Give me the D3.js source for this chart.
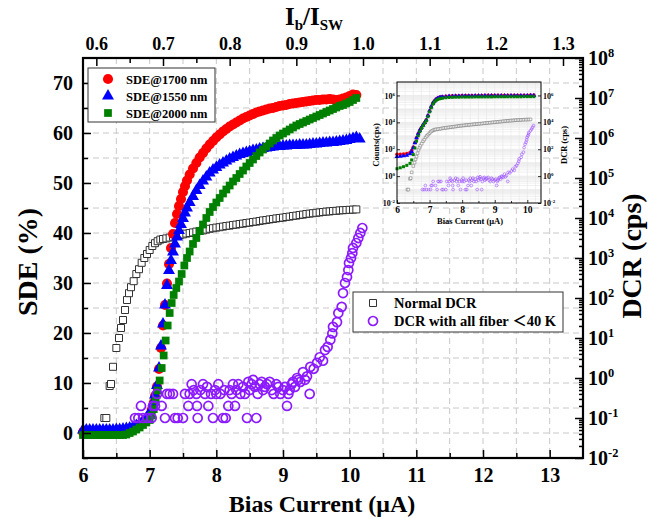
<!DOCTYPE html>
<meta charset="utf-8">
<style>
body { margin: 0; background: #fff; }
svg { font-family: "Liberation Serif", "Times New Roman", "Noto Sans CJK SC", serif; font-weight: bold; }
.grid line { stroke: #c8c8c8; stroke-width: 1; stroke-dasharray: 6,4; }
.axis text { fill: #000; }
.axis line { stroke: #000; stroke-width: 1.5; }
.inset .axis line { stroke-width: 0.8; }
.igrid line { stroke: #e6e6e6; stroke-width: 0.6; }
</style>
<svg width="649" height="519"></svg>
<script src="https://cdn.jsdelivr.net/npm/d3@7"></script>
<script>

// SDE (%) vs bias current (uA)
var sde1700 = [[6.00,0.2],[6.05,0.2],[6.10,0.2],[6.15,0.2],[6.20,0.2],[6.25,0.2],[6.30,0.2],[6.35,0.2],[6.40,0.3],[6.45,0.3],[6.50,0.3],[6.55,0.4],[6.60,0.4],[6.65,0.5],[6.70,0.7],[6.75,0.9],[6.80,1.3],[6.85,1.7],[6.90,2.2],[6.95,2.8],[7.00,3.5],[7.03,4.6],[7.06,6.0],[7.08,7.4],[7.11,9.3],[7.14,12.8],[7.17,17.0],[7.20,21.5],[7.23,25.6],[7.26,29.9],[7.29,33.8],[7.32,37.0],[7.35,39.8],[7.38,42.0],[7.41,43.8],[7.44,45.4],[7.47,46.8],[7.50,48.2],[7.53,49.4],[7.56,50.5],[7.60,51.7],[7.65,52.9],[7.70,54.0],[7.75,55.1],[7.80,56.0],[7.85,56.9],[7.90,57.7],[7.95,58.4],[8.00,59.1],[8.05,59.7],[8.10,60.3],[8.15,60.8],[8.20,61.3],[8.25,61.7],[8.30,62.1],[8.35,62.5],[8.40,62.9],[8.45,63.2],[8.50,63.5],[8.55,63.8],[8.60,64.1],[8.65,64.3],[8.70,64.5],[8.75,64.7],[8.80,64.9],[8.85,65.0],[8.90,65.2],[8.95,65.4],[9.00,65.5],[9.05,65.6],[9.10,65.8],[9.15,65.9],[9.20,66.0],[9.25,66.1],[9.30,66.2],[9.35,66.3],[9.40,66.4],[9.45,66.5],[9.50,66.6],[9.55,66.6],[9.60,66.7],[9.65,66.7],[9.70,66.8],[9.75,66.7],[9.80,66.6],[9.85,66.7],[9.90,66.9],[9.95,67.1],[10.00,67.4],[10.05,67.7],[10.10,67.6]];

var sde1550 = [[6.00,0.6],[6.05,0.6],[6.10,0.6],[6.15,0.6],[6.20,0.6],[6.25,0.6],[6.30,0.6],[6.35,0.6],[6.40,0.6],[6.45,0.6],[6.50,0.7],[6.55,0.7],[6.60,0.8],[6.65,0.9],[6.70,1.0],[6.75,1.2],[6.80,1.5],[6.85,1.9],[6.90,2.4],[6.95,3.0],[7.00,3.7],[7.03,4.8],[7.06,6.2],[7.08,7.6],[7.11,9.5],[7.14,13.0],[7.17,17.4],[7.20,21.8],[7.23,25.6],[7.26,29.5],[7.29,32.5],[7.32,34.5],[7.35,36.2],[7.38,37.8],[7.41,39.2],[7.44,40.5],[7.47,41.7],[7.50,42.9],[7.53,44.0],[7.56,45.0],[7.60,46.1],[7.65,47.3],[7.70,48.5],[7.75,49.5],[7.80,50.4],[7.85,51.2],[7.90,52.0],[7.95,52.6],[8.00,53.1],[8.05,53.6],[8.10,54.0],[8.15,54.4],[8.20,54.8],[8.25,55.1],[8.30,55.4],[8.35,55.7],[8.40,55.9],[8.45,56.1],[8.50,56.3],[8.55,56.5],[8.60,56.6],[8.65,56.8],[8.70,56.9],[8.75,57.0],[8.80,57.1],[8.85,57.2],[8.90,57.3],[8.95,57.3],[9.00,57.4],[9.05,57.4],[9.10,57.5],[9.15,57.5],[9.20,57.5],[9.25,57.6],[9.30,57.6],[9.35,57.6],[9.40,57.7],[9.45,57.8],[9.50,57.8],[9.55,57.9],[9.60,58.0],[9.65,58.0],[9.70,58.1],[9.75,58.1],[9.80,58.2],[9.85,58.3],[9.90,58.4],[9.95,58.5],[10.00,58.7],[10.05,58.9],[10.10,59.1],[10.15,58.8]];

var sde2000 = [[6.00,-0.4],[6.05,-0.4],[6.10,-0.4],[6.15,-0.4],[6.20,-0.4],[6.25,-0.4],[6.30,-0.4],[6.35,-0.4],[6.40,-0.4],[6.45,-0.4],[6.50,-0.4],[6.55,-0.4],[6.60,-0.4],[6.65,-0.3],[6.70,0.0],[6.75,0.3],[6.80,0.7],[6.85,1.1],[6.90,1.6],[6.95,2.1],[7.00,2.6],[7.03,3.5],[7.06,4.8],[7.09,6.5],[7.12,8.5],[7.15,10.5],[7.18,13.0],[7.21,15.5],[7.24,18.5],[7.27,21.5],[7.30,24.0],[7.33,26.0],[7.36,27.6],[7.40,29.0],[7.44,30.3],[7.48,31.8],[7.52,33.5],[7.56,35.0],[7.60,36.3],[7.65,37.8],[7.70,39.0],[7.75,40.4],[7.80,41.7],[7.85,43.0],[7.90,44.2],[7.95,45.2],[8.00,46.1],[8.05,47.0],[8.10,47.9],[8.15,48.7],[8.20,49.5],[8.25,50.3],[8.30,51.0],[8.35,51.8],[8.40,52.5],[8.45,53.3],[8.50,54.0],[8.55,54.7],[8.60,55.4],[8.65,56.1],[8.70,56.7],[8.75,57.3],[8.80,57.9],[8.85,58.5],[8.90,59.0],[8.95,59.5],[9.00,59.9],[9.05,60.3],[9.10,60.7],[9.15,61.1],[9.20,61.5],[9.25,61.8],[9.30,62.1],[9.35,62.4],[9.40,62.7],[9.45,63.0],[9.50,63.3],[9.55,63.6],[9.60,63.9],[9.65,64.2],[9.70,64.5],[9.75,64.8],[9.80,65.1],[9.85,65.4],[9.90,65.6],[9.95,65.9],[10.00,66.2],[10.05,66.6],[10.10,67.0]];

// normal DCR, log10(cps)
var dcrNormalLog = [[6.32,-1.0],[6.35,-1.0],[6.40,-0.2],[6.42,-0.15],[6.45,0.28],[6.50,0.75],[6.54,1.0],[6.57,1.25],[6.60,1.45],[6.63,1.7],[6.66,1.95],[6.69,2.12],[6.72,2.27],[6.76,2.42],[6.80,2.6],[6.84,2.72],[6.88,2.88],[6.92,3.0],[6.96,3.1],[7.00,3.2],[7.04,3.3],[7.08,3.37],[7.12,3.42],[7.16,3.46],[7.20,3.475],[7.25,3.49],[7.30,3.51],[7.35,3.53],[7.40,3.555],[7.45,3.575],[7.50,3.59],[7.55,3.61],[7.60,3.625],[7.65,3.64],[7.70,3.66],[7.75,3.675],[7.80,3.69],[7.85,3.71],[7.90,3.73],[7.95,3.745],[8.00,3.76],[8.05,3.77],[8.10,3.785],[8.15,3.8],[8.20,3.81],[8.25,3.825],[8.30,3.835],[8.35,3.85],[8.40,3.86],[8.45,3.875],[8.50,3.885],[8.55,3.9],[8.60,3.91],[8.65,3.925],[8.70,3.94],[8.75,3.95],[8.80,3.965],[8.85,3.975],[8.90,3.99],[8.95,4.0],[9.00,4.01],[9.05,4.025],[9.10,4.035],[9.15,4.05],[9.20,4.06],[9.25,4.075],[9.30,4.085],[9.35,4.1],[9.40,4.11],[9.45,4.12],[9.50,4.13],[9.55,4.14],[9.60,4.15],[9.65,4.16],[9.70,4.165],[9.75,4.175],[9.80,4.18],[9.85,4.19],[9.90,4.195],[9.95,4.2],[10.00,4.205],[10.05,4.21],[10.10,4.215]];

// DCR with all fiber < 40 K, cps
var dcrCold = [[6.78,0.1],[6.83,0.1],[6.87,0.2],[6.90,0.1],[6.97,0.1],[7.03,0.1],[7.05,0.2],[7.08,0.2],[7.11,0.4],[7.18,0.2],[7.23,0.1],[7.26,0.4],[7.30,0.4],[7.35,0.4],[7.38,0.1],[7.42,0.1],[7.50,0.1],[7.53,0.4],[7.58,0.2],[7.60,0.4],[7.63,0.7],[7.66,0.5],[7.70,0.4],[7.71,0.2],[7.72,0.1],[7.76,0.5],[7.80,0.7],[7.83,0.4],[7.86,0.6],[7.88,0.2],[7.92,0.4],[7.95,0.1],[7.98,0.5],[8.00,0.4],[8.03,0.7],[8.06,0.4],[8.10,0.1],[8.12,0.5],[8.14,0.1],[8.18,0.2],[8.20,0.5],[8.23,0.4],[8.25,0.7],[8.28,0.2],[8.30,0.5],[8.33,0.7],[8.36,0.4],[8.40,0.6],[8.43,0.4],[8.46,0.1],[8.48,0.8],[8.50,0.5],[8.53,0.7],[8.55,0.9],[8.58,0.6],[8.60,0.1],[8.62,0.4],[8.65,0.7],[8.68,0.8],[8.70,0.5],[8.73,0.6],[8.76,0.7],[8.80,0.8],[8.83,0.5],[8.86,0.4],[8.90,0.7],[8.93,0.6],[8.96,0.4],[9.00,0.5],[9.03,0.6],[9.06,0.2],[9.08,0.4],[9.10,0.5],[9.13,0.7],[9.15,0.8],[9.18,0.6],[9.21,1.0],[9.23,0.9],[9.26,0.8],[9.30,1.4],[9.33,0.9],[9.36,1.1],[9.40,0.4],[9.41,1.9],[9.46,1.7],[9.51,2.4],[9.55,3.3],[9.60,2.7],[9.63,5],[9.67,6],[9.71,9],[9.74,13],[9.75,19],[9.81,25],[9.83,42],[9.88,60],[9.90,133],[9.93,237],[9.96,335],[9.98,500],[9.99,750],[10.02,1000],[10.04,1330],[10.05,1780],[10.10,2370],[10.13,3160],[10.16,4220],[10.19,5620]];

// inset: photon counts, log10(cps)
var counts1700Log = [[6.0,1.62],[6.1,1.62],[6.2,1.64],[6.3,1.68],[6.4,1.75],[6.45,1.9],[6.5,2.15],[6.55,2.5],[6.6,2.85],[6.65,3.15],[6.7,3.4],[6.75,3.6],[6.8,3.8],[6.85,3.98],[6.9,4.18],[6.95,4.5],[7.0,4.85],[7.05,5.15],[7.1,5.42],[7.15,5.6],[7.2,5.72],[7.25,5.8],[7.3,5.85],[7.35,5.88],[7.4,5.9],[7.5,5.93],[7.6,5.95],[7.7,5.96],[7.8,5.97],[7.9,5.97],[8.0,5.98],[8.1,5.98],[8.2,5.98],[8.3,5.99],[8.4,5.99],[8.5,5.99],[8.6,5.99],[8.7,6.0],[8.8,6.0],[8.9,6.0],[9.0,6.0],[9.1,6.0],[9.2,6.0],[9.3,6.0],[9.4,6.0],[9.5,6.0],[9.6,6.0],[9.7,6.01],[9.8,6.01],[9.9,6.01],[10.0,6.01],[10.1,6.02],[10.2,6.02]];
var counts1550Log = [[6.0,1.45],[6.1,1.47],[6.2,1.5],[6.3,1.55],[6.4,1.65],[6.45,1.82],[6.5,2.1],[6.55,2.48],[6.6,2.84],[6.65,3.14],[6.7,3.4],[6.75,3.6],[6.8,3.8],[6.85,3.98],[6.9,4.18],[6.95,4.5],[7.0,4.85],[7.05,5.15],[7.1,5.42],[7.15,5.58],[7.2,5.7],[7.25,5.78],[7.3,5.83],[7.35,5.86],[7.4,5.88],[7.5,5.91],[7.6,5.93],[7.7,5.94],[7.8,5.95],[7.9,5.95],[8.0,5.96],[8.1,5.96],[8.2,5.96],[8.3,5.96],[8.4,5.97],[8.5,5.97],[8.6,5.97],[8.7,5.97],[8.8,5.97],[8.9,5.97],[9.0,5.97],[9.1,5.97],[9.2,5.97],[9.3,5.97],[9.4,5.97],[9.5,5.98],[9.6,5.98],[9.7,5.98],[9.8,5.98],[9.9,5.98],[10.0,5.98],[10.1,5.99],[10.2,5.99]];
var counts2000Log = [[6.0,0.55],[6.1,0.62],[6.2,0.7],[6.3,0.8],[6.4,0.95],[6.45,1.2],[6.5,1.6],[6.55,2.1],[6.6,2.6],[6.65,3.0],[6.7,3.3],[6.75,3.55],[6.8,3.75],[6.85,3.95],[6.9,4.12],[6.95,4.42],[7.0,4.78],[7.05,5.08],[7.1,5.35],[7.15,5.52],[7.2,5.63],[7.25,5.7],[7.3,5.75],[7.35,5.78],[7.4,5.8],[7.5,5.83],[7.6,5.85],[7.7,5.86],[7.8,5.87],[7.9,5.87],[8.0,5.88],[8.1,5.88],[8.2,5.88],[8.3,5.88],[8.4,5.89],[8.5,5.89],[8.6,5.89],[8.7,5.89],[8.8,5.89],[8.9,5.89],[9.0,5.9],[9.1,5.9],[9.2,5.9],[9.3,5.9],[9.4,5.9],[9.5,5.9],[9.6,5.9],[9.7,5.9],[9.8,5.9],[9.9,5.91],[10.0,5.91],[10.1,5.91],[10.2,5.91]];

var biasTicks = [6, 7, 8, 9, 10, 11, 12, 13];
var ratioTicks = [0.6, 0.7, 0.8, 0.9, 1.0, 1.1, 1.2, 1.3];
var sdeTicks = [0, 10, 20, 30, 40, 50, 60, 70];
var dcrTicks = [1e-2, 1e-1, 1e0, 1e1, 1e2, 1e3, 1e4, 1e5, 1e6, 1e7, 1e8];
var insetBiasTicks = [6, 7, 8, 9, 10];
var insetCountTicks = [1e-2, 1e0, 1e2, 1e4, 1e6];

var legendSde = ["SDE@1700 nm", "SDE@1550 nm", "SDE@2000 nm"];
var legendDcr = ["Normal DCR", "DCR with all fiber \uFF1C40 K"];

var box = {left: 83, right: 583, top: 58, bottom: 458};

var x = d3.scaleLinear().domain([6, 13.5]).range([box.left, box.right]);
var xTop = d3.scaleLinear().domain([0.58, 1.33]).range([box.left, box.right]);
var y = d3.scaleLinear().domain([-5, 75]).range([box.bottom, box.top]);
var yLog = d3.scaleLog().domain([1e-2, 1e8]).range([box.bottom, box.top]);

var svg = d3.select("svg");

function pow10(v) { return Math.pow(10, v); }

function logMinor(lo, hi) {
  var out = [];
  for (var k = lo; k < hi; k++)
    for (var m = 2; m < 10; m++) out.push(m * Math.pow(10, k));
  return out;
}

// "10" with the exponent as superscript
function powLabels(g) {
  g.selectAll(".tick text").each(function(d) {
    var t = d3.select(this), e = Math.round(Math.log10(d));
    t.text("10");
    t.append("tspan").attr("dy", "-0.6em").attr("font-size", "0.62em").text(e);
  });
}

function plain(g) { g.select(".domain").remove(); g.attr("font-family", null).attr("font-size", null); }

// grid
var grid = svg.append("g").attr("class", "grid");
grid.selectAll("line.v").data(d3.range(6.5, 13.1, 0.5)).enter().append("line").attr("class", "v")
    .attr("x1", function(d) { return x(d); }).attr("x2", function(d) { return x(d); })
    .attr("y1", box.top).attr("y2", box.bottom);
grid.selectAll("line.h").data(d3.range(0, 71, 5)).enter().append("line").attr("class", "h")
    .attr("x1", box.left).attr("x2", box.right)
    .attr("y1", function(d) { return y(d); }).attr("y2", function(d) { return y(d); });

function symbols(g, data, fx, fy, type, size, fill, stroke, sw) {
  g.append("g").selectAll("path").data(data).enter().append("path")
      .attr("transform", function(d) { return "translate(" + fx(d) + "," + fy(d) + ")"; })
      .attr("d", d3.symbol().type(type).size(size))
      .attr("fill", fill)
      .attr("stroke", stroke)
      .attr("stroke-width", sw);
}

var bx = function(d) { return x(d[0]); };
var sy = function(d) { return y(d[1]); };
var ly = function(d) { return yLog(pow10(d[1])); };
var cy = function(d) { return yLog(d[1]); };

var marks = svg.append("g");
symbols(marks, dcrNormalLog, bx, ly, d3.symbolSquare, 49, "#fff", "#333", 1);
symbols(marks, sde1700, bx, sy, d3.symbolCircle, 80, "#ff0000", "none", 0);
symbols(marks, sde1550, bx, sy, d3.symbolTriangle, 62, "#0000ff", "none", 0);
symbols(marks, sde2000, bx, sy, d3.symbolSquare, 60, "#008000", "none", 0);
symbols(marks, dcrCold, bx, cy, d3.symbolCircle, 64, "none", "#8c1aff", 1.7);

// axes
svg.append("g").attr("class", "axis").attr("transform", "translate(0," + box.bottom + ")")
    .call(d3.axisBottom(x).tickValues(biasTicks).tickSize(-8).tickPadding(10).tickFormat(d3.format("d")))
    .call(plain).attr("font-size", 20);
svg.append("g").attr("class", "axis").attr("transform", "translate(0," + box.bottom + ")")
    .call(d3.axisBottom(x).tickValues(d3.range(6.5, 13.5, 1)).tickSize(-5).tickFormat(""))
    .call(plain);

svg.append("g").attr("class", "axis").attr("transform", "translate(0," + box.top + ")")
    .call(d3.axisTop(xTop).tickValues(ratioTicks).tickSize(-8).tickPadding(8).tickFormat(d3.format(".1f")))
    .call(plain).attr("font-size", 18);
svg.append("g").attr("class", "axis").attr("transform", "translate(0," + box.top + ")")
    .call(d3.axisTop(xTop).tickValues(d3.range(0.65, 1.3, 0.1)).tickSize(-5).tickFormat(""))
    .call(plain);

svg.append("g").attr("class", "axis").attr("transform", "translate(" + box.left + ",0)")
    .call(d3.axisLeft(y).tickValues(sdeTicks).tickSize(-8).tickPadding(10))
    .call(plain).attr("font-size", 20);
svg.append("g").attr("class", "axis").attr("transform", "translate(" + box.left + ",0)")
    .call(d3.axisLeft(y).tickValues(d3.range(-5, 75, 10)).tickSize(-5).tickFormat(""))
    .call(plain);

svg.append("g").attr("class", "axis").attr("transform", "translate(" + box.right + ",0)")
    .call(d3.axisRight(yLog).tickValues(dcrTicks).tickSize(-8).tickPadding(5))
    .call(plain).call(powLabels).attr("font-size", 20);
svg.append("g").attr("class", "axis").attr("transform", "translate(" + box.right + ",0)")
    .call(d3.axisRight(yLog).tickValues(logMinor(-2, 8)).tickSize(-4).tickFormat(""))
    .call(plain);

svg.append("rect")
    .attr("x", box.left).attr("y", box.top)
    .attr("width", box.right - box.left).attr("height", box.bottom - box.top)
    .attr("fill", "none").attr("stroke", "#000").attr("stroke-width", 2.2);

// titles
svg.append("text").attr("x", 322).attr("y", 512).attr("text-anchor", "middle")
    .attr("font-size", 24).text("Bias Current (\u03BCA)");
svg.append("text").attr("transform", "translate(37,262) rotate(-90)").attr("text-anchor", "middle")
    .attr("font-size", 28).text("SDE (%)");
svg.append("text").attr("transform", "translate(641,256) rotate(-90)").attr("text-anchor", "middle")
    .attr("font-size", 28).text("DCR (cps)");

var ttl = svg.append("text").attr("x", 314).attr("y", 25).attr("text-anchor", "middle").attr("font-size", 25);
ttl.append("tspan").text("I");
ttl.append("tspan").attr("font-size", 15).attr("dy", 5).text("b");
ttl.append("tspan").attr("dy", -5).text("/I");
ttl.append("tspan").attr("font-size", 15).attr("dy", 5).text("SW");

// legend, SDE
var lg1 = svg.append("g");
lg1.append("rect").attr("x", 88).attr("y", 68).attr("width", 127).attr("height", 54)
    .attr("fill", "#fff").attr("stroke", "#333").attr("stroke-width", 1);
var lgTypes = [[d3.symbolCircle, 80, "#ff0000"], [d3.symbolTriangle, 62, "#0000ff"], [d3.symbolSquare, 60, "#008000"]];
legendSde.forEach(function(name, i) {
  var yy = 79 + i * 17;
  lg1.append("path").attr("transform", "translate(108," + yy + ")")
      .attr("d", d3.symbol().type(lgTypes[i][0]).size(lgTypes[i][1])).attr("fill", lgTypes[i][2]);
  lg1.append("text").attr("x", 126).attr("y", yy + 4.5).attr("font-size", 12.5).text(name);
});

// legend, DCR
var lg2 = svg.append("g");
lg2.append("rect").attr("x", 353).attr("y", 292).attr("width", 210).attr("height", 40)
    .attr("fill", "#fff").attr("stroke", "#333").attr("stroke-width", 1);
lg2.append("path").attr("transform", "translate(373,303)")
    .attr("d", d3.symbol().type(d3.symbolSquare).size(49)).attr("fill", "#fff").attr("stroke", "#333");
lg2.append("path").attr("transform", "translate(373,321)")
    .attr("d", d3.symbol().type(d3.symbolCircle).size(64)).attr("fill", "none").attr("stroke", "#8c1aff").attr("stroke-width", 1.7);
legendDcr.forEach(function(name, i) {
  lg2.append("text").attr("x", 394).attr("y", 308 + i * 18).attr("font-size", 14.5).text(name);
});

// inset
var ib = {left: 397, right: 541, top: 82, bottom: 203};
var ix = d3.scaleLinear().domain([6, 10.42]).range([ib.left, ib.right]);
var iy = d3.scaleLog().domain([1e-2, 1e7]).range([ib.bottom, ib.top]);

var inset = svg.append("g").attr("class", "inset");
inset.append("rect").attr("x", ib.left).attr("y", ib.top)
    .attr("width", ib.right - ib.left).attr("height", ib.bottom - ib.top).attr("fill", "#fff");
var ig = inset.append("g").attr("class", "igrid");
ig.selectAll("line.v").data(d3.range(6.25, 10.42, 0.25)).enter().append("line").attr("class", "v")
    .attr("x1", function(d) { return ix(d); }).attr("x2", function(d) { return ix(d); })
    .attr("y1", ib.top).attr("y2", ib.bottom);
ig.selectAll("line.h").data(logMinor(-2, 7).concat(d3.range(-1, 7).map(pow10))).enter().append("line").attr("class", "h")
    .attr("x1", ib.left).attr("x2", ib.right)
    .attr("y1", function(d) { return iy(d); }).attr("y2", function(d) { return iy(d); });

var ibx = function(d) { return ix(d[0]); };
var ily = function(d) { return iy(pow10(d[1])); };
var icy = function(d) { return iy(d[1]); };
symbols(inset, counts1700Log, ibx, ily, d3.symbolCircle, 11, "#ff0000", "none", 0);
symbols(inset, counts1550Log, ibx, ily, d3.symbolTriangle, 10, "#0000ff", "none", 0);
symbols(inset, counts2000Log, ibx, ily, d3.symbolSquare, 9, "#008000", "none", 0);
symbols(inset, dcrNormalLog, ibx, ily, d3.symbolSquare, 7, "#fff", "#666", 0.5);
symbols(inset, dcrCold, ibx, icy, d3.symbolCircle, 6, "none", "#9a4dff", 0.6);

inset.append("g").attr("class", "axis").attr("transform", "translate(0," + ib.bottom + ")")
    .call(d3.axisBottom(ix).tickValues(insetBiasTicks).tickSize(-3).tickPadding(3).tickFormat(d3.format("d")))
    .call(plain).attr("font-size", 9.5);
inset.append("g").attr("class", "axis").attr("transform", "translate(0," + ib.bottom + ")")
    .call(d3.axisBottom(ix).tickValues(d3.range(6.5, 10.5, 1)).tickSize(-2).tickFormat(""))
    .call(plain);
inset.append("g").attr("class", "axis").attr("transform", "translate(" + ib.left + ",0)")
    .call(d3.axisLeft(iy).tickValues(insetCountTicks).tickSize(-3).tickPadding(2))
    .call(plain).call(powLabels).attr("font-size", 8);
inset.append("g").attr("class", "axis").attr("transform", "translate(" + ib.right + ",0)")
    .call(d3.axisRight(iy).tickValues(insetCountTicks).tickSize(-3).tickPadding(2))
    .call(plain).call(powLabels).attr("font-size", 8);
inset.append("rect").attr("x", ib.left).attr("y", ib.top)
    .attr("width", ib.right - ib.left).attr("height", ib.bottom - ib.top)
    .attr("fill", "none").attr("stroke", "#000").attr("stroke-width", 1);

inset.append("text").attr("x", 470).attr("y", 224).attr("text-anchor", "middle")
    .attr("font-size", 8.5).text("Bias Current (\u03BCA)");
inset.append("text").attr("transform", "translate(379,145) rotate(-90)").attr("text-anchor", "middle")
    .attr("font-size", 8.5).text("Counts(cps)");
inset.append("text").attr("transform", "translate(567,145) rotate(-90)").attr("text-anchor", "middle")
    .attr("font-size", 8.5).text("DCR (cps)");

</script>
